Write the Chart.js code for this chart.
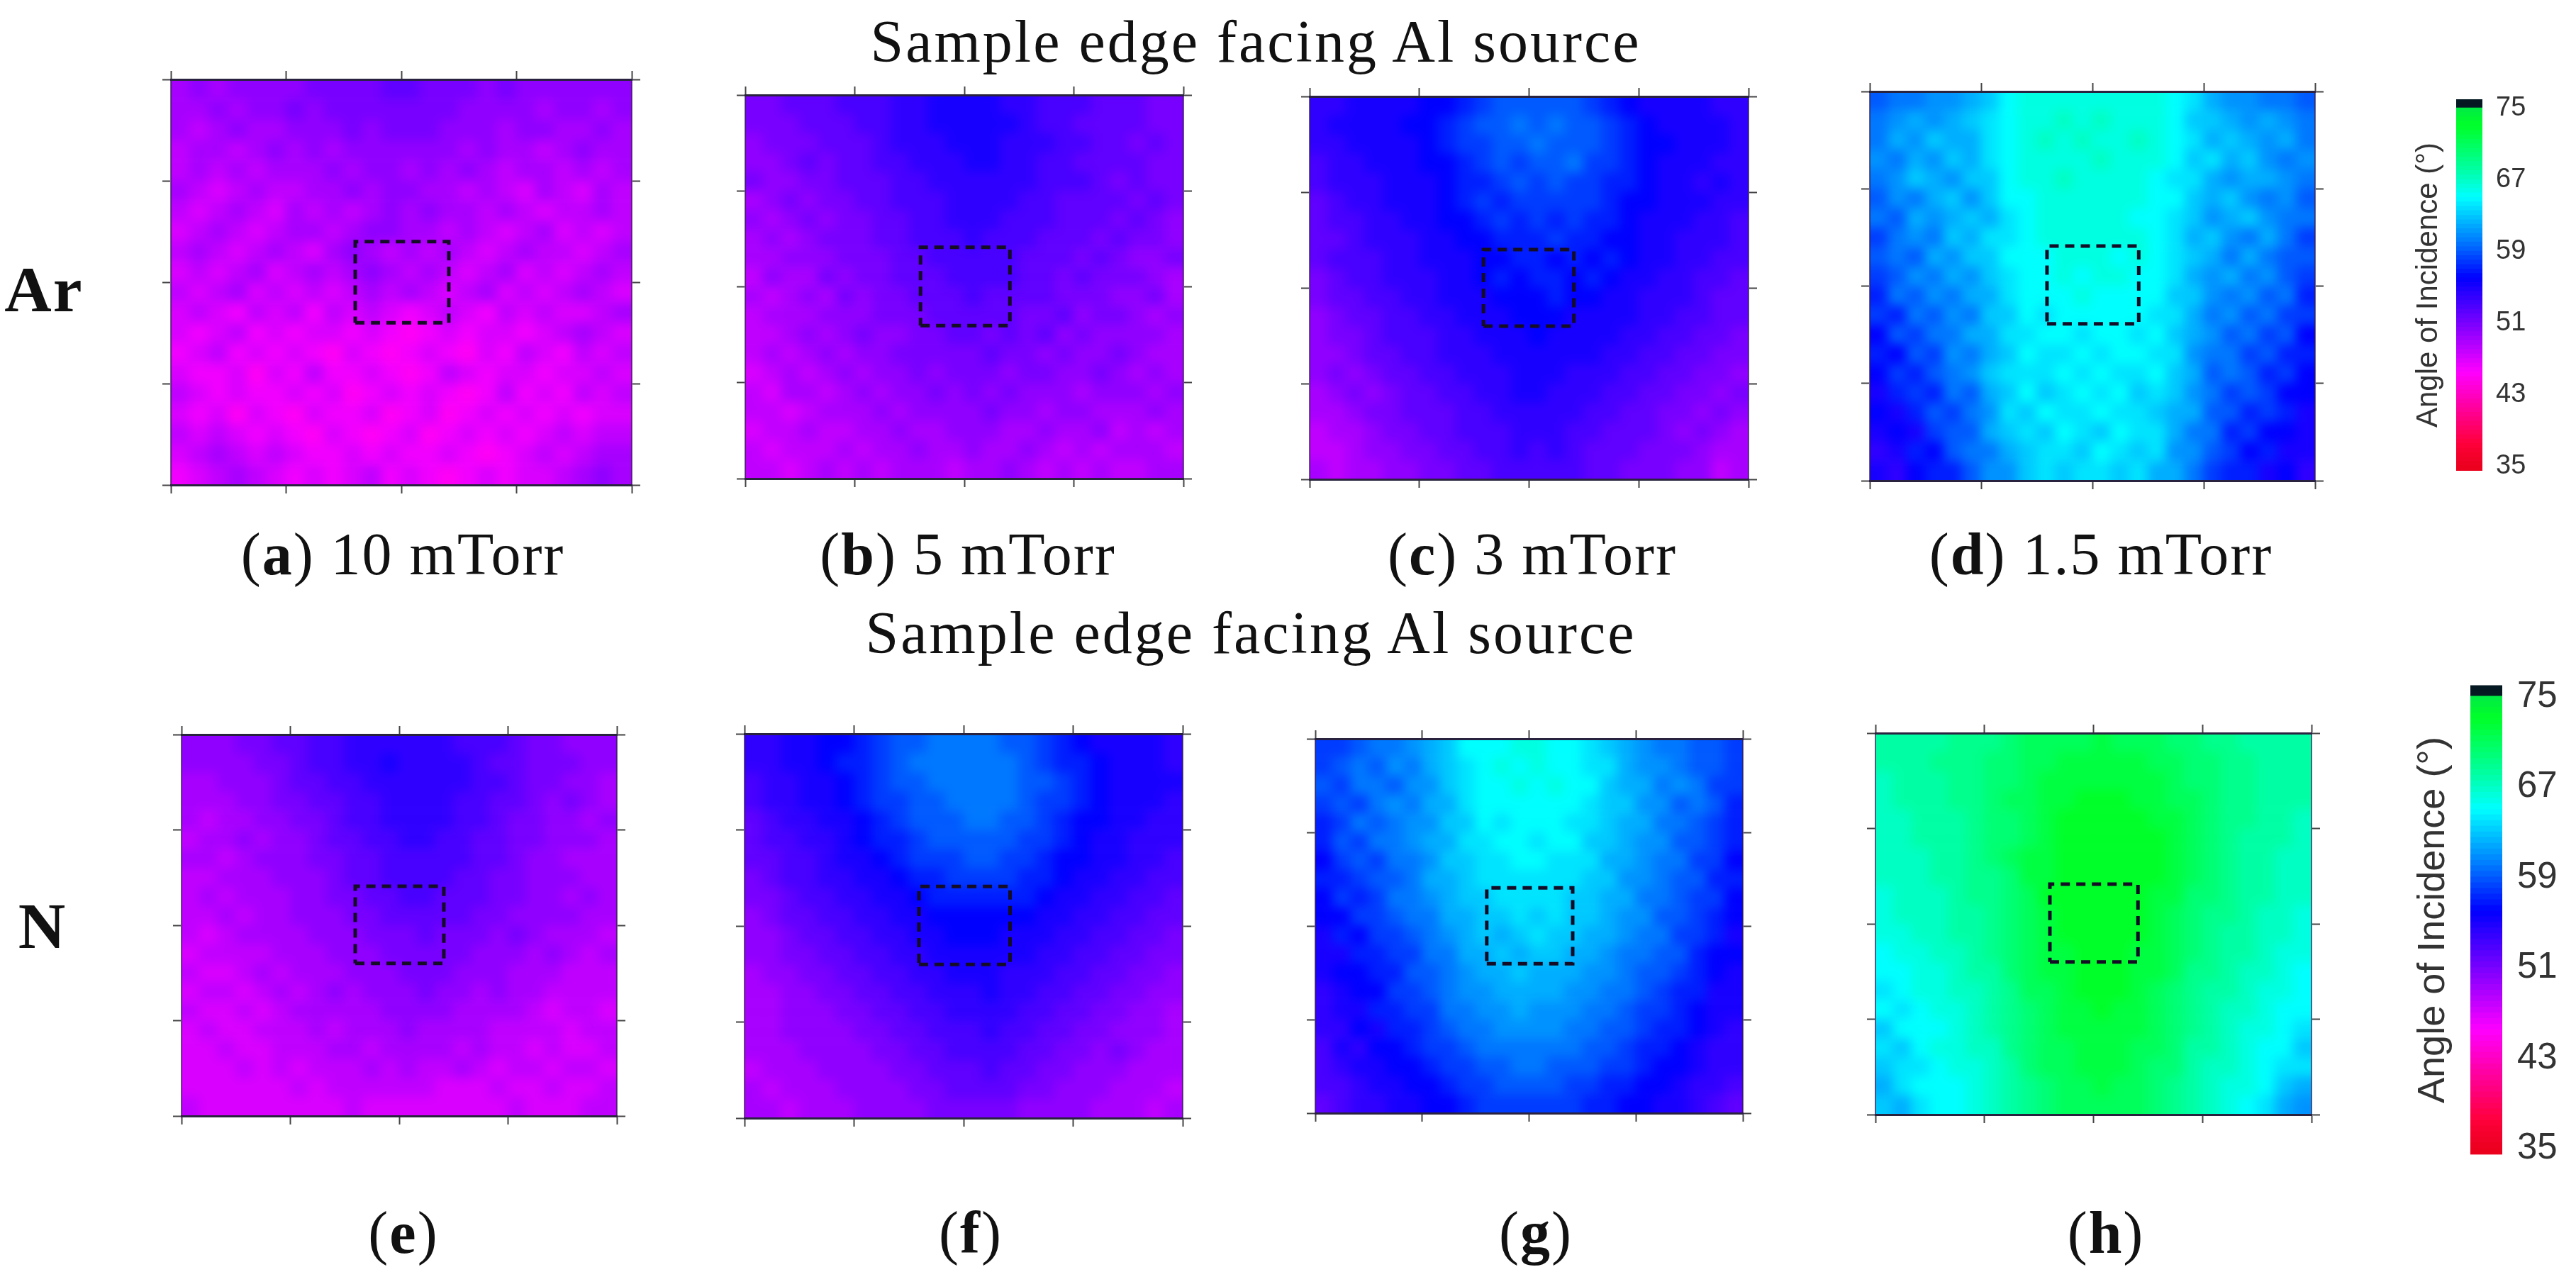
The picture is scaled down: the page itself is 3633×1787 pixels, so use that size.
<!DOCTYPE html>
<html>
<head>
<meta charset="utf-8">
<title>Angle of incidence maps</title>
<script src="https://cdn.jsdelivr.net/npm/chart.js@4"></script>
<style>
    body { margin: 0; background: #fff; }
    #page { position: relative; width: 3633px; height: 1787px; overflow: hidden; }
    canvas { position: absolute; }
    .label {
        position: absolute;
        transform: translate(-50%, -50%);
        white-space: nowrap;
        font-family: "Liberation Serif", serif;
        font-size: 84px;
        letter-spacing: 2px;
        color: #111;
    }
    .title { letter-spacing: 3px; }
    .gas { font-weight: bold; font-size: 92px; }
</style>
</head>
<body>
<div id="page"></div>
<script>
// angle of incidence, 24 columns x 20 rows, top row first
const ar10 = [
    [49,50,49,50,50,50, 50,51,51,51,51,52, 52,51,51,51,50,51, 50,50,50,50,50,50],
    [49,49,50,49,50,50, 51,50,51,51,51,51, 51,51,51,50,50,50, 50,49,50,50,49,50],
    [49,48,49,50,49,49, 50,50,50,51,50,51, 51,51,50,50,50,49, 50,50,49,49,50,49],
    [48,49,49,48,49,50, 49,50,49,50,50,50, 50,50,50,49,50,49, 49,48,49,50,49,49],
    [48,49,48,49,48,49, 49,49,50,49,50,50, 49,50,49,50,49,48, 49,49,48,49,48,49],
    [49,48,47,48,49,48, 48,49,49,50,49,50, 50,49,49,48,49,48, 47,49,48,47,49,48],
    [48,47,48,49,48,47, 49,48,49,48,49,50, 49,50,49,49,48,49, 48,47,48,48,49,48],
    [47,48,49,48,47,48, 49,49,48,49,50,50, 49,49,48,49,48,47, 48,49,47,48,47,48],
    [48,49,48,47,48,49, 48,47,49,50,49,48, 49,48,49,48,47,48, 49,48,48,47,48,49],
    [47,48,47,48,49,47, 48,49,48,49,50,49, 48,49,48,47,48,49, 47,48,47,48,49,48],
    [48,47,48,49,47,48, 47,48,47,48,49,48, 49,48,47,48,49,47, 48,47,48,49,48,47],
    [47,48,47,46,48,47, 48,46,48,47,48,47, 46,47,48,47,46,48, 47,48,47,47,48,49],
    [47,46,47,48,46,47, 46,47,47,46,47,46, 45,46,47,46,47,47, 46,47,48,49,48,47],
    [46,47,48,46,47,46, 47,46,45,47,46,45, 46,47,46,45,47,46, 48,47,46,48,47,48],
    [47,46,46,47,45,47, 46,48,46,46,47,46, 45,46,48,47,46,47, 47,46,47,47,48,47],
    [48,47,46,47,46,46, 47,46,47,45,46,47, 46,47,46,45,46,48, 46,47,46,48,47,48],
    [47,46,47,45,47,46, 45,47,46,46,47,45, 46,47,45,46,47,46, 47,46,47,46,47,47],
    [48,47,48,47,46,47, 46,45,47,46,45,46, 47,45,46,47,46,47, 46,47,48,47,48,48],
    [47,48,49,48,47,48, 47,46,46,47,46,47, 46,46,47,46,45,46, 47,48,47,48,49,49],
    [46,47,48,49,48,47, 46,47,46,47,48,46, 47,46,45,46,47,46, 47,47,48,49,50,49]
];
const ar5 = [
    [51,51,52,52,52,53, 53,53,54,54,55,55, 55,55,54,54,53,53, 53,52,52,52,51,51],
    [51,51,51,52,52,52, 53,53,54,54,55,55, 55,55,55,54,53,53, 52,52,52,52,51,51],
    [50,51,51,51,52,52, 52,53,54,54,54,55, 55,55,54,54,54,53, 53,52,52,51,52,51],
    [50,50,51,52,51,52, 52,53,53,54,54,54, 55,55,54,54,53,53, 52,52,52,52,51,51],
    [51,50,50,51,51,52, 52,52,53,53,54,54, 54,54,54,54,53,53, 53,52,51,52,51,51],
    [49,50,51,50,51,51, 52,52,53,53,53,54, 54,54,54,53,53,52, 52,52,52,51,52,51],
    [50,49,50,51,50,51, 51,52,52,53,53,54, 54,54,53,53,53,52, 52,52,51,52,51,50],
    [49,50,49,50,51,51, 51,52,52,53,53,53, 54,53,53,53,52,52, 52,51,52,51,51,50],
    [49,49,50,50,50,51, 51,51,52,52,53,53, 53,53,53,52,52,52, 51,52,51,50,50,51],
    [48,50,49,49,51,50, 51,51,52,52,52,53, 53,53,53,52,52,51, 52,51,51,51,50,49],
    [49,48,49,50,49,51, 50,51,51,52,52,52, 53,52,52,52,52,51, 51,51,50,50,51,49],
    [48,49,49,49,50,50, 50,51,51,51,52,52, 52,52,52,51,51,52, 50,51,51,50,49,50],
    [48,48,49,50,49,50, 51,50,50,51,51,52, 52,51,52,51,52,50, 51,50,50,50,50,49],
    [48,49,48,49,50,49, 50,50,51,51,51,51, 51,52,51,51,50,51, 50,50,51,50,49,49],
    [47,48,49,48,49,50, 49,50,50,51,50,51, 51,51,50,51,51,50, 50,51,50,49,50,49],
    [48,47,49,49,48,49, 50,49,50,50,51,50, 51,50,51,50,50,50, 49,50,50,50,49,50],
    [48,48,47,48,49,49, 49,50,49,50,50,50, 50,51,50,50,49,50, 50,49,49,49,50,49],
    [47,48,48,49,48,48, 49,49,50,49,49,50, 50,50,49,49,50,49, 49,50,48,49,48,49],
    [48,47,48,48,48,49, 48,49,49,50,49,49, 50,49,49,50,49,48, 49,48,49,49,49,48],
    [48,48,47,48,49,48, 49,48,49,49,49,48, 49,49,50,49,48,49, 48,49,48,48,49,49]
];
const ar3 = [
    [54,54,55,55,55,55, 56,56,57,58,59,59, 59,59,59,58,57,56, 55,55,55,55,54,54],
    [54,55,55,55,55,56, 56,57,58,59,59,60, 59,60,59,59,58,57, 56,55,55,55,55,54],
    [54,54,55,55,55,55, 56,57,58,58,59,59, 60,59,59,59,58,57, 56,56,55,55,55,54],
    [53,54,54,55,55,55, 56,56,57,58,59,58, 59,59,60,58,58,57, 56,55,55,55,54,54],
    [53,54,54,54,55,55, 55,56,57,57,58,59, 58,59,58,58,57,57, 56,55,55,54,55,54],
    [52,53,54,54,55,55, 55,56,57,58,57,58, 58,58,58,58,57,56, 56,55,55,55,54,54],
    [52,53,53,54,54,55, 55,56,56,57,58,57, 58,57,58,57,57,56, 55,55,55,54,54,53],
    [52,52,53,54,54,54, 55,55,56,56,57,57, 57,58,57,57,56,56, 55,55,54,54,54,53],
    [52,53,53,53,54,54, 55,55,55,56,56,57, 57,56,57,56,57,56, 55,55,54,54,53,53],
    [51,52,53,53,54,54, 54,55,55,56,57,56, 57,57,56,57,56,55, 55,54,54,53,53,52],
    [51,52,52,53,53,54, 54,55,55,55,56,56, 56,57,56,56,55,55, 54,54,54,53,52,52],
    [50,51,52,52,53,53, 54,54,55,55,55,56, 56,56,55,55,55,55, 54,54,53,53,52,52],
    [50,51,51,52,53,53, 53,54,54,55,55,55, 56,55,55,55,55,54, 54,53,53,52,52,51],
    [50,50,51,52,52,53, 53,54,54,54,55,55, 55,55,55,55,54,54, 53,53,52,52,51,51],
    [50,51,50,51,52,52, 53,53,54,54,54,55, 55,55,54,54,54,53, 53,52,52,51,51,50],
    [49,50,51,50,51,52, 52,53,53,54,54,55, 55,54,54,54,53,53, 52,52,51,51,50,51],
    [49,49,50,51,51,52, 52,52,53,53,54,54, 54,54,54,53,53,52, 52,51,51,50,51,50],
    [48,49,49,50,51,51, 52,52,53,53,53,54, 54,54,53,53,52,52, 52,51,50,51,50,49],
    [48,48,49,50,50,51, 51,52,52,53,53,54, 53,54,53,52,52,52, 51,51,51,50,49,49],
    [49,48,49,49,50,50, 51,51,52,52,53,53, 53,53,53,52,52,51, 51,51,50,50,48,49]
];
const ar1p5 = [
    [59,60,60,61,61,62, 63,65,66,66,66,66, 66,66,66,66,65,64, 62,61,61,60,60,59],
    [60,61,62,61,62,63, 64,65,66,66,67,66, 67,66,66,66,65,63, 63,62,61,62,61,60],
    [60,62,61,63,62,62, 64,65,66,67,66,67, 66,66,67,66,65,64, 62,63,62,61,62,60],
    [61,60,62,61,63,62, 64,65,66,66,66,66, 67,66,66,66,65,63, 64,62,63,61,60,61],
    [60,61,63,62,61,63, 63,65,66,66,67,66, 66,66,66,65,64,64, 62,61,62,62,61,60],
    [59,61,60,62,63,61, 63,65,65,66,66,66, 66,66,66,65,65,63, 62,63,61,60,61,59],
    [60,59,62,61,62,63, 62,64,65,66,66,66, 66,66,65,65,64,63, 61,62,63,61,60,60],
    [58,60,61,60,63,62, 64,64,65,66,66,66, 66,66,66,65,64,62, 63,61,60,62,60,58],
    [59,60,59,62,61,63, 63,65,65,65,66,66, 66,65,66,65,64,63, 62,60,62,60,59,59],
    [58,59,61,60,62,61, 63,64,65,65,66,65, 66,66,65,65,64,62, 61,62,60,61,59,58],
    [57,60,59,61,60,62, 62,64,65,65,65,66, 65,65,65,65,63,63, 61,60,61,59,60,57],
    [58,57,60,59,61,60, 63,63,65,64,65,65, 65,65,65,64,64,62, 60,61,59,60,58,58],
    [56,59,58,60,60,62, 62,64,64,65,65,64, 65,65,64,65,63,62, 61,59,60,58,59,56],
    [57,56,59,58,61,60, 62,63,65,64,64,65, 64,65,65,64,64,61, 60,60,58,59,57,57],
    [56,58,57,59,60,61, 63,64,64,64,65,64, 65,64,64,65,63,62, 59,60,59,57,58,56],
    [55,57,58,57,60,59, 62,63,65,63,64,65, 64,65,63,64,63,61, 60,58,59,58,56,56],
    [56,55,57,59,58,60, 61,64,63,65,64,64, 65,64,64,63,62,62, 59,59,57,58,57,55],
    [55,56,55,58,59,59, 62,63,64,63,65,64, 63,65,64,64,62,60, 60,57,58,56,56,55],
    [54,55,57,56,59,60, 60,62,63,64,64,63, 65,64,63,64,61,61, 59,58,56,57,55,55],
    [55,54,56,57,57,59, 61,61,63,64,63,64, 64,63,64,62,62,60, 58,57,57,55,56,54]
];
const n10 = [
    [50,50,50,51,51,52, 52,53,53,54,54,54, 54,54,54,53,53,53, 52,51,51,50,50,50],
    [50,50,50,50,51,51, 52,53,53,54,54,55, 54,54,54,54,53,52, 52,51,51,51,50,50],
    [49,49,50,50,50,51, 52,52,53,53,54,54, 54,54,54,54,53,53, 52,51,51,50,50,49],
    [49,49,49,50,50,51, 51,52,52,53,53,54, 54,54,54,53,53,52, 52,51,50,51,50,49],
    [49,48,49,49,50,50, 51,51,52,53,53,54, 54,54,54,53,53,52, 51,51,50,50,49,50],
    [48,49,49,50,49,50, 50,51,52,52,53,53, 54,54,53,53,52,52, 51,51,50,50,50,49],
    [49,49,48,49,50,50, 50,51,51,52,52,53, 53,53,53,53,52,52, 51,50,50,49,49,49],
    [48,48,49,49,49,50, 50,50,51,52,52,53, 53,53,53,52,52,51, 51,50,50,50,49,49],
    [48,49,48,49,49,49, 50,50,51,51,52,52, 53,53,52,52,52,51, 51,50,50,49,50,49],
    [48,48,49,48,49,49, 50,50,50,51,51,52, 52,52,52,52,51,51, 50,50,50,50,49,49],
    [48,47,48,49,49,49, 49,50,50,50,51,51, 51,52,51,51,51,50, 51,50,49,49,49,48],
    [47,48,48,48,48,49, 49,49,50,50,50,51, 51,51,51,51,50,50, 50,49,50,49,48,49],
    [48,47,47,48,49,48, 49,49,49,50,50,50, 51,51,51,50,50,50, 49,49,49,48,48,48],
    [47,48,48,47,48,49, 48,49,50,49,50,50, 50,51,50,50,49,50, 49,49,48,48,48,48],
    [48,47,47,48,47,48, 49,49,49,49,49,50, 50,50,50,49,49,49, 49,48,47,48,48,47],
    [47,48,47,47,48,48, 48,49,48,49,49,49, 50,49,49,49,49,48, 48,48,48,47,48,48],
    [47,47,48,47,47,48, 48,48,49,49,48,49, 49,49,49,48,49,48, 48,47,48,47,47,48],
    [47,47,47,48,47,48, 47,48,48,48,49,48, 49,48,48,49,48,47, 48,48,47,48,48,47],
    [47,47,47,47,47,47, 48,47,48,48,48,48, 48,48,47,47,47,48, 47,47,48,47,47,48],
    [48,47,47,47,47,47, 47,47,47,48,47,47, 47,47,47,47,47,47, 48,47,47,47,48,48]
];
const n5 = [
    [54,54,55,55,56,56, 57,58,59,59,60,60, 60,60,59,59,58,57, 56,55,55,55,55,54],
    [54,54,55,55,56,57, 57,58,59,60,60,60, 60,60,60,59,58,57, 57,56,55,55,55,54],
    [53,54,54,55,55,56, 57,58,59,59,60,60, 60,60,60,59,59,58, 57,56,55,55,55,55],
    [53,54,54,55,55,56, 57,58,58,59,59,60, 60,60,60,59,58,58, 57,56,55,55,55,54],
    [52,53,54,54,55,55, 56,57,58,59,59,59, 60,60,59,59,58,57, 56,56,55,55,54,54],
    [52,53,53,54,54,55, 56,57,57,58,59,59, 59,59,59,58,58,57, 56,55,55,54,54,54],
    [52,52,53,53,54,55, 55,56,57,58,58,58, 59,59,58,58,57,56, 56,55,55,54,54,53],
    [51,52,53,53,54,54, 55,55,56,57,57,58, 58,58,58,57,57,56, 55,55,54,54,53,53],
    [51,51,52,53,53,54, 54,55,55,56,57,57, 57,57,57,57,56,55, 55,54,54,53,53,52],
    [50,51,52,52,53,53, 54,54,55,55,56,56, 56,56,56,56,55,55, 54,54,53,53,52,52],
    [50,50,51,52,52,53, 53,54,54,55,55,56, 56,56,55,55,55,54, 54,53,53,52,52,51],
    [50,50,51,51,52,52, 53,53,54,54,55,55, 55,55,55,55,54,54, 53,53,52,52,51,51],
    [49,50,50,51,51,52, 52,53,53,54,54,55, 55,55,54,54,54,53, 53,52,52,51,51,50],
    [49,49,50,50,51,51, 52,52,53,53,54,54, 54,55,54,54,53,53, 52,52,51,51,50,50],
    [49,49,50,50,50,51, 51,52,52,53,53,54, 54,54,54,53,53,52, 52,51,51,50,50,49],
    [49,49,50,50,50,50, 51,51,52,52,53,53, 53,54,53,53,52,52, 51,51,50,50,50,49],
    [49,49,49,50,50,50, 50,51,51,52,52,53, 53,53,53,52,52,51, 51,50,51,50,49,49],
    [48,49,49,49,50,50, 50,50,51,51,52,52, 52,53,52,52,51,51, 50,50,50,49,49,49],
    [49,48,49,49,49,50, 50,50,50,51,51,52, 52,52,52,51,51,50, 50,50,49,49,49,48],
    [49,49,48,49,49,49, 50,50,50,50,51,51, 51,51,51,50,50,50, 50,49,49,49,48,49]
];
const n3 = [
    [58,58,59,60,60,61, 62,63,65,65,65,66, 66,65,65,64,63,62, 61,60,60,59,59,58],
    [58,59,60,59,61,60, 62,63,64,65,66,65, 66,65,65,64,64,62, 61,61,60,59,59,58],
    [59,58,60,60,59,61, 61,63,64,65,65,66, 65,66,65,65,63,62, 62,60,61,60,58,58],
    [58,59,58,60,61,60, 62,62,64,65,65,65, 65,65,65,64,63,63, 61,61,59,60,59,57],
    [57,58,60,59,60,61, 61,63,63,65,64,65, 65,65,64,64,63,62, 62,60,60,59,58,57],
    [57,59,58,60,60,61, 62,62,64,64,65,65, 64,65,65,63,63,62, 61,61,59,59,58,57],
    [56,58,59,58,60,60, 61,63,63,64,64,65, 65,64,64,64,62,62, 61,60,60,58,58,56],
    [57,57,58,59,59,60, 62,62,63,64,64,64, 64,64,64,63,63,61, 61,60,59,59,57,57],
    [56,58,57,58,60,60, 61,62,63,63,64,64, 64,64,63,63,62,62, 60,60,59,58,58,56],
    [56,56,58,58,59,60, 60,62,62,63,63,64, 63,64,63,63,62,61, 61,59,59,58,57,56],
    [55,57,56,58,58,59, 60,61,62,63,62,63, 64,63,63,62,62,61, 60,60,58,58,57,55],
    [55,55,57,57,58,58, 60,60,62,62,63,62, 63,63,62,62,61,60, 60,59,59,57,56,56],
    [55,56,56,57,57,59, 59,60,61,62,62,63, 62,62,62,61,61,60, 59,59,58,57,56,55],
    [54,55,56,56,58,58, 59,60,61,61,62,62, 62,62,61,61,60,60, 59,58,57,57,55,55],
    [54,55,55,57,57,58, 58,60,60,61,61,62, 61,61,61,60,60,59, 58,58,57,56,55,55],
    [54,54,56,55,57,57, 58,59,60,60,61,61, 61,61,60,60,59,59, 58,57,57,56,55,54],
    [53,55,54,56,56,57, 58,58,59,60,60,60, 60,60,60,59,59,58, 57,57,56,55,54,54],
    [53,54,55,55,56,56, 57,58,58,59,59,60, 60,59,59,59,58,58, 57,56,56,55,54,54],
    [53,53,54,55,55,56, 56,57,58,58,59,59, 59,59,58,58,57,57, 56,56,55,54,54,53],
    [52,53,54,54,55,55, 56,56,57,58,58,58, 58,58,58,57,57,56, 56,55,55,54,53,52]
];
const n1p5 = [
    [68,68,68,68,69,69, 69,70,71,71,71,71, 72,71,71,71,70,70, 69,69,68,68,68,68],
    [68,68,68,69,69,69, 70,70,71,71,72,72, 72,72,72,71,71,70, 70,69,69,68,68,68],
    [67,68,68,68,69,69, 70,70,71,72,72,72, 72,72,72,72,71,70, 70,69,69,68,68,68],
    [67,68,68,68,69,69, 70,71,71,72,72,73, 73,73,72,72,71,71, 70,69,69,68,68,68],
    [67,67,68,68,68,69, 70,70,71,72,73,73, 73,73,73,72,72,71, 70,69,69,68,68,67],
    [67,67,68,68,68,69, 70,70,71,72,73,73, 73,73,73,73,72,71, 70,69,68,68,68,67],
    [67,67,67,68,68,69, 70,71,72,72,73,73, 73,73,73,73,72,71, 70,69,68,68,67,67],
    [67,67,67,68,68,69, 69,70,72,72,73,73, 73,73,73,73,72,71, 70,69,68,68,67,67],
    [66,67,67,67,68,69, 69,70,71,73,73,73, 73,73,73,72,72,70, 70,69,68,68,67,67],
    [66,67,67,67,68,68, 69,70,71,72,73,73, 73,73,73,72,71,70, 69,69,68,67,67,66],
    [66,66,67,67,68,68, 69,70,71,72,73,73, 73,73,73,72,71,70, 69,68,68,67,67,66],
    [65,66,66,67,67,68, 69,70,71,72,72,73, 73,73,72,72,71,70, 69,68,68,67,66,66],
    [65,65,66,66,67,68, 68,70,71,72,72,73, 73,73,72,72,71,69, 69,68,67,67,66,65],
    [64,65,66,66,67,67, 68,69,71,71,72,73, 73,73,72,71,70,69, 68,68,67,66,66,65],
    [65,64,65,66,66,67, 68,69,70,71,72,72, 73,72,72,71,70,69, 68,67,67,66,65,65],
    [63,65,65,65,66,67, 68,69,70,71,72,72, 72,72,72,71,70,69, 68,67,66,66,65,64],
    [64,63,65,66,66,67, 67,69,70,71,71,72, 72,72,71,71,70,68, 68,67,66,65,65,63],
    [63,64,64,65,66,66, 67,68,70,71,71,72, 72,72,71,70,70,68, 67,67,66,65,64,64],
    [62,64,65,65,65,66, 67,68,69,70,71,71, 72,71,71,70,69,68, 67,66,66,65,63,62],
    [63,62,64,65,65,66, 67,68,69,70,71,71, 71,71,71,70,69,68, 67,66,65,64,62,61]
];

// dashed region of interest on each map, as fractions of the map
const boxLeft = [0.4, 0.4, 0.396, 0.398, 0.399, 0.398, 0.401, 0.4];
const boxRight = [0.603, 0.604, 0.602, 0.604, 0.6025, 0.606, 0.602, 0.602];
const boxBottom = [0.4, 0.399, 0.4, 0.403, 0.4, 0.4, 0.399, 0.4];
const boxTop = [0.6, 0.603, 0.6, 0.603, 0.602, 0.603, 0.602, 0.604];

const panelTicks = [0, 0.25, 0.5, 0.75, 1];
const colorbarTicks = [35, 43, 51, 59, 67, 75];
const colorbarLevels = [34.5,35,35.5,36,36.5,37,37.5,38,38.5,39,39.5,40,40.5,41,41.5,42,42.5,43,43.5,44,44.5,45,45.5,46,46.5,47,47.5,48,48.5,49,49.5,50,50.5,51,51.5,52,52.5,53,53.5,54,54.5,55,55.5,56,56.5,57,57.5,58,58.5,59,59.5,60,60.5,61,61.5,62,62.5,63,63.5,64,64.5,65,65.5,66,66.5,67,67.5,68,68.5,69,69.5,70,70.5,71,71.5,72,72.5,73,73.5,74,74.5,75,75.5];

const COLS = 24;
const ROWS = 20;
const TICK = 12;
const MARGIN = 34;
const BLUR = 8;

// angle -> colour stops of the colour bar
const colorStops = [
    [35, [235, 0, 30]], [37.5, [255, 0, 60]], [45.4, [255, 0, 255]], [56, [0, 0, 255]],
    [60, [0, 120, 255]], [65, [0, 255, 255]], [68, [0, 255, 165]], [73, [0, 255, 40]], [75.1, [0, 235, 70]]
];

function angleColor(v) {
    if (v > 75.1) return 'rgb(5, 25, 35)';
    for (let i = 1; i < colorStops.length; i++) {
        if (v <= colorStops[i][0]) {
            const [a, ca] = colorStops[i - 1];
            const [b, cb] = colorStops[i];
            const t = Math.max(0, (v - a) / (b - a));
            const c = ca.map((x, k) => Math.round(x + (cb[k] - x) * t));
            return `rgb(${c[0]}, ${c[1]}, ${c[2]})`;
        }
    }
    return 'rgb(0, 235, 70)';
}

const page = document.getElementById('page');

function addCanvas(left, top, width, height) {
    const canvas = document.createElement('canvas');
    canvas.width = width;
    canvas.height = height;
    canvas.style.left = left + 'px';
    canvas.style.top = top + 'px';
    canvas.style.width = width + 'px';
    canvas.style.height = height + 'px';
    page.appendChild(canvas);
    return canvas;
}

function addLabel(html, x, y, cls) {
    const el = document.createElement('div');
    el.className = 'label ' + (cls || '');
    el.innerHTML = html;
    el.style.left = x + 'px';
    el.style.top = y + 'px';
    page.appendChild(el);
}

// the source maps are smoothed scans: blur the drawn cells, keep them inside the frame
const softHeat = {
    id: 'softHeat',
    afterDatasetDraw(chart, args) {
        if (chart.data.datasets[args.index].label !== 'angle') return;
        const { ctx, canvas, chartArea: area } = chart;
        const copy = document.createElement('canvas');
        copy.width = canvas.width;
        copy.height = canvas.height;
        copy.getContext('2d').drawImage(canvas, 0, 0);
        ctx.save();
        ctx.clearRect(0, 0, canvas.width, canvas.height);
        ctx.beginPath();
        ctx.rect(area.left, area.top, area.right - area.left, area.bottom - area.top);
        ctx.clip();
        ctx.filter = `blur(${BLUR}px)`;
        ctx.drawImage(copy, 0, 0);
        ctx.restore();
    }
};

function frameAxis(position, axis, borderWidth) {
    const isX = axis === 'x';
    return {
        type: 'linear',
        position,
        min: 0,
        max: 1,
        border: { display: true, color: isX ? '#2a2340' : 'rgba(50,30,80,0.7)', width: borderWidth, z: 1 },
        grid: { drawOnChartArea: false, drawTicks: true, tickLength: TICK, tickWidth: 2, tickColor: '#444', z: 1 },
        ticks: { display: false },
        afterBuildTicks: scale => {
            scale.ticks = panelTicks.map(value => ({ value }));
        },
        afterFit: scale => {
            if (isX) scale.height = TICK;
            else scale.width = TICK;
        }
    };
}

function drawPanel(rows, index, rect) {
    const [left, top, right, bottom] = rect;
    const pad = TICK + MARGIN;
    const canvas = addCanvas(left - pad, top - pad, right - left + pad * 2, bottom - top + pad * 2);
    const cell = Math.max((right - left) / COLS, (bottom - top) / ROWS);

    // edge cells are repeated outside so the blur does not fade at the frame
    const points = [];
    for (let r = -2; r <= ROWS + 1; r++) {
        for (let c = -2; c <= COLS + 1; c++) {
            const rr = Math.min(ROWS - 1, Math.max(0, r));
            const cc = Math.min(COLS - 1, Math.max(0, c));
            points.push({ x: (c + 0.5) / COLS, y: 1 - (r + 0.5) / ROWS, v: rows[rr][cc] });
        }
    }

    const boxX = [boxLeft[index], boxRight[index], boxRight[index], boxLeft[index], boxLeft[index]];
    const boxY = [boxBottom[index], boxBottom[index], boxTop[index], boxTop[index], boxBottom[index]];

    new Chart(canvas, {
        type: 'scatter',
        data: {
            datasets: [{
                label: 'box',
                data: boxX.map((x, i) => ({ x, y: boxY[i] })),
                showLine: true,
                borderColor: '#150c26',
                borderWidth: 5,
                borderDash: [13, 9],
                pointRadius: 0,
                order: 0
            }, {
                label: 'angle',
                data: points,
                pointStyle: 'rect',
                pointRadius: cell * 0.72,
                pointBorderWidth: 0,
                clip: false,
                backgroundColor: ctx => angleColor(ctx.raw ? ctx.raw.v : 50),
                order: 1
            }]
        },
        plugins: [softHeat],
        options: {
            responsive: false,
            devicePixelRatio: 1,
            animation: false,
            events: [],
            layout: { padding: MARGIN },
            plugins: { legend: { display: false }, tooltip: { enabled: false } },
            scales: {
                x: frameAxis('bottom', 'x', 3),
                y: frameAxis('left', 'y', 2),
                x2: frameAxis('top', 'x', 3),
                y2: frameAxis('right', 'y', 2)
            }
        }
    });
}

function drawColorbar(left, top, width, height, pad, titleSize, tickSize, leftWidth, rightWidth, gap) {
    const canvas = addCanvas(left, top, width, height);
    new Chart(canvas, {
        type: 'bar',
        data: {
            labels: ['angle'],
            datasets: colorbarLevels.map(level => ({
                label: String(level),
                data: [[level, level + 0.55]],
                backgroundColor: angleColor(level + 0.25),
                barPercentage: 1,
                categoryPercentage: 1,
                grouped: false
            }))
        },
        options: {
            responsive: false,
            devicePixelRatio: 1,
            animation: false,
            events: [],
            layout: { padding: { top: pad, bottom: pad } },
            plugins: { legend: { display: false }, tooltip: { enabled: false } },
            scales: {
                x: { display: false },
                y: {
                    position: 'right',
                    min: 34.5,
                    max: 76,
                    border: { display: false },
                    grid: { display: false },
                    ticks: {
                        color: '#333',
                        padding: gap,
                        font: { family: 'Liberation Sans', size: tickSize }
                    },
                    afterBuildTicks: scale => {
                        scale.ticks = colorbarTicks.map(value => ({ value }));
                    },
                    afterFit: scale => { scale.width = rightWidth; }
                },
                y2: {
                    position: 'left',
                    min: 34.5,
                    max: 76,
                    border: { display: false },
                    grid: { display: false },
                    ticks: { display: false },
                    title: {
                        display: true,
                        text: 'Angle of Incidence (°)',
                        color: '#333',
                        padding: { top: gap, bottom: 0 },
                        font: { family: 'Liberation Sans', size: titleSize, weight: 'normal' }
                    },
                    afterFit: scale => { scale.width = leftWidth; }
                }
            }
        }
    });
}

const mapValues = [ar10, ar5, ar3, ar1p5, n10, n5, n3, n1p5];
const mapRects = [
    [241, 112, 891, 684], [1051, 134, 1669, 675], [1847, 136, 2466, 676], [2637, 129, 3265, 678],
    [256, 1036, 870, 1574], [1050, 1035, 1668, 1577], [1855, 1042, 2458, 1570], [2645, 1034, 3260, 1572]
];
mapValues.forEach((values, i) => drawPanel(values, i, mapRects[i]));

drawColorbar(3389, 100, 212, 604, 40, 42, 38, 75, 100, 11);
drawColorbar(3387, 923, 242, 749, 40, 54, 51, 97, 100, 13);

addLabel('Sample edge facing Al source', 1771, 58, 'title');
addLabel('Sample edge facing Al source', 1764, 892, 'title');
addLabel('(<b>a</b>) 10 mTorr', 568, 781);
addLabel('(<b>b</b>) 5 mTorr', 1365, 781);
addLabel('(<b>c</b>) 3 mTorr', 2161, 781);
addLabel('(<b>d</b>) 1.5 mTorr', 2963, 781);
addLabel('(<b>e</b>)', 569, 1738);
addLabel('(<b>f</b>)', 1369, 1738);
addLabel('(<b>g</b>)', 2166, 1738);
addLabel('(<b>h</b>)', 2970, 1738);
addLabel('Ar', 62, 408, 'gas');
addLabel('N', 60, 1306, 'gas');
</script>
</body>
</html>
